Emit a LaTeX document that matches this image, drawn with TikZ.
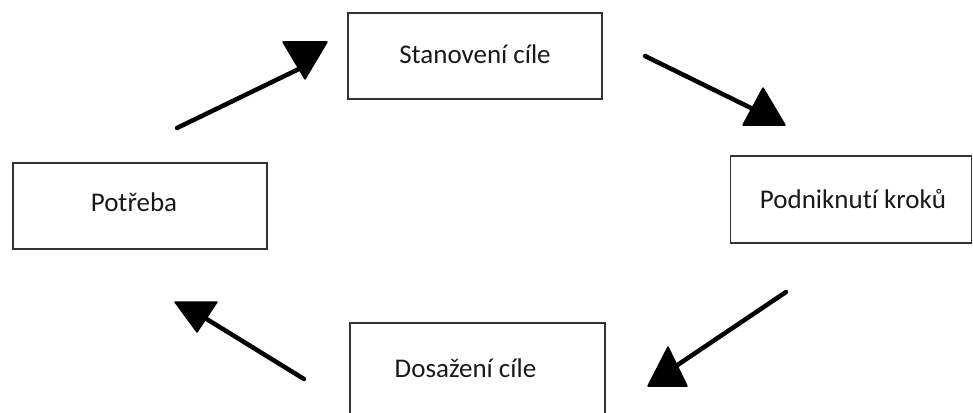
\documentclass[tikz,border=0pt]{standalone}
\usepackage{fontspec}
\setmainfont{Carlito}[Ligatures=NoCommon]
\begin{document}
\begin{tikzpicture}[x=1pt, y=-1pt,
  stagebox/.style={draw=black!80, line width=1.6pt, rectangle, inner sep=0pt},
  stagetext/.style={font=\fontsize{27}{32}\selectfont, text=black!90},
  link/.style={line width=4.5pt, line cap=round},
  headtri/.style={fill=black, draw=black, line width=1.5pt, line join=round}]
  \clip (0,0) rectangle (973,412);
  \useasboundingbox (0,0) rectangle (973,412);

  % the four stages of the cycle
  \node[stagebox, minimum width=254pt, minimum height=86pt,
        label={[stagetext, yshift=2pt]center:Stanovení cíle}] (goal) at (475,56) {};
  \node[stagebox, minimum width=241pt, minimum height=87pt,
        label={[stagetext, xshift=2pt]center:Podniknutí kroků}] (steps) at (851,199.5) {};
  \node[stagebox, minimum width=255pt, minimum height=92pt,
        label={[stagetext, yshift=1pt, xshift=-12pt]center:Dosažení cíle}] (reached) at (477.5,369) {};
  \node[stagebox, minimum width=254pt, minimum height=86pt,
        label={[stagetext, xshift=-6pt, yshift=4pt]center:Potřeba}] (need) at (140,206) {};

  % connector ends
  \coordinate (a1) at (177,128); \coordinate (b1) at (303,67);
  \coordinate (a2) at (645,56);  \coordinate (b2) at (755,110);
  \coordinate (a3) at (786,292); \coordinate (b3) at (676,366);
  \coordinate (a4) at (304,379); \coordinate (b4) at (205,318);

  \draw[link] (a1) -- (b1);
  \draw[link] (a2) -- (b2);
  \draw[link] (a3) -- (b3);
  \draw[link] (a4) -- (b4);

  % triangular heads
  \filldraw[headtri] (283,42) -- (327,42) -- (305,79) -- cycle;
  \filldraw[headtri] (763,88) -- (785,125) -- (743,125) -- cycle;
  \filldraw[headtri] (668,347) -- (687,386) -- (648,386) -- cycle;
  \filldraw[headtri] (175,302) -- (217,302) -- (197,332) -- cycle;
\end{tikzpicture}
\end{document}
